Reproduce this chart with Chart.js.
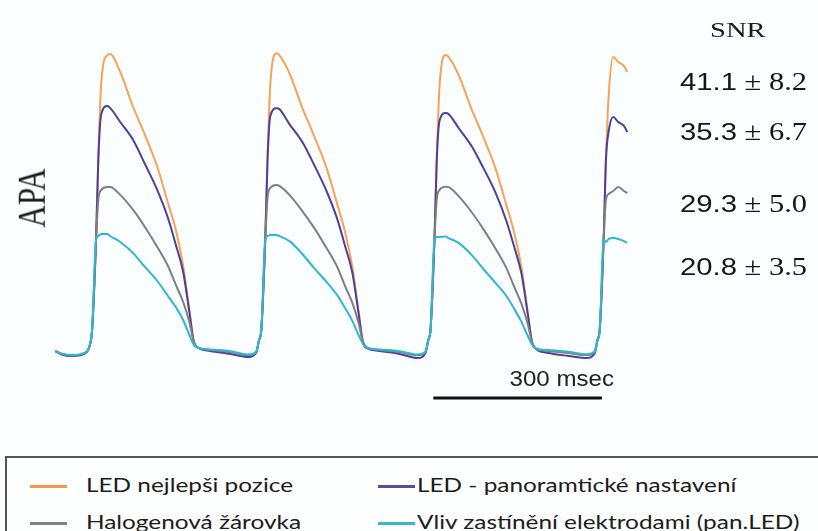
<!DOCTYPE html>
<html>
<head>
<meta charset="utf-8">
<script src="https://cdn.jsdelivr.net/npm/chart.js@4.4.1/dist/chart.umd.min.js"></script>
<style>
  html, body { margin: 0; padding: 0; background: #fbfefe; }
  #wrap { position: relative; width: 818px; height: 531px; overflow: hidden; background: #fbfefe; }
  #chart { position: absolute; left: 0; top: 0; }
  .serif { font-family: "Liberation Serif", "DejaVu Serif", serif; color: #1a1a1a; }
  #apa { position: absolute; left: 31px; top: 198px; font-size: 31px; line-height: 1;
         transform: translate(-50%, -50%) scaleX(1.27) rotate(-90deg); white-space: nowrap; }
  #snrTitle { position: absolute; left: 710px; top: 19px; font-size: 22px; line-height: 1;
              transform: scaleX(1.3); transform-origin: left center; }
  .snr { position: absolute; left: 680px; white-space: nowrap; line-height: 1; color: #161616;
         transform: scaleX(1.22); transform-origin: left center; }
  .snr .m { font-family: "Liberation Sans", Arial, sans-serif; font-size: 24px; }
  .snr .s { font-family: "Liberation Serif", serif; font-size: 25px; }
  #legend { position: absolute; left: 5px; top: 456px; width: 830px; height: 100px; border: 2px solid #555; background: #fdfefe; }
  .item { position: absolute; font-family: Lato, "Open Sans", sans-serif; font-size: 19.5px; line-height: 19px; color: #1c1c1c;
          white-space: nowrap; transform: scaleX(1.25); transform-origin: left center; }
  .sw { position: absolute; height: 3px; }
</style>
</head>
<body>
<div id="wrap">
  <canvas id="chart" width="818" height="531"></canvas>
  <div id="apa" class="serif">APA</div>
  <div id="snrTitle" class="serif">SNR</div>
  <div id="legend"></div>
</div>
<script>
// time axis (ms) shared by all four traces
const timeMs = [
  0, 12, 30, 53, 62, 66, 73, 77, 82, 93, 98, 116, 139, 160, 182, 201, 215, 228, 239, 247, 255, 276, 312, 344, 358, 363,
  367, 374, 378, 383, 394, 399, 417, 440, 461, 483, 502, 516, 529, 540, 548, 556, 577, 613, 645, 659, 664,
  668, 675, 679, 684, 695, 700, 718, 741, 762, 784, 803, 817, 830, 841, 849, 857, 878, 914, 946, 960, 965,
  969, 976, 980, 985, 993, 1002, 1012, 1018
];

const ledBest = [
  -0.3, -1.3, -1.8, -1.0, 1.7, 6.7, 36.7, 63.3, 88.3, 98.3, 98.7, 92.7, 81, 71.7, 61, 49, 40, 28, 13.3, 2.7, 0.7, 0, -0.7, -1.7, -0.7, 3.3,
  6.7, 36.7, 63, 88.5, 98.9, 98.3, 92.3, 80.7, 71.3, 60.7, 48.7, 39.3, 27.7, 13, 2.7, 0.7, 0, -0.7, -1.7, -0.7, 3.3,
  6.7, 36.7, 62.7, 87.7, 98.3, 97.7, 91.7, 80.3, 71, 60.3, 48.3, 39, 27.3, 12.7, 2.3, 0.3, -0.3, -1, -1.7, -0.7, 3.3,
  6.7, 36.7, 63, 85, 97.7, 96, 94.7, 92.7
];

const ledPanoramic = [
  -0.3, -1.5, -2.0, -1.2, 1.7, 6.7, 36.7, 63.3, 78.3, 81.3, 80.7, 76, 70, 62, 53.3, 44, 35, 26, 12.7, 2.7, 0.7, -0.3, -1.3, -2.3, -0.9, 3.3,
  6.7, 36.7, 63, 78, 80.6, 80.3, 75.3, 69.3, 61.7, 53, 43.7, 34.7, 25.7, 12.3, 2.3, 0.5, -0.3, -1.3, -2.7, -1, 3.3,
  6.7, 36.7, 62.7, 76.3, 79, 78.7, 74, 68, 60.7, 52.3, 43, 34.3, 25.3, 12, 2.3, 0.2, -1, -2, -2.7, -1.2, 3.3,
  6.7, 36.7, 63, 73, 77.7, 76, 74.7, 72.7
];

const halogen = [
  -0.3, -1.3, -1.8, -1.0, 1.7, 6.7, 36.7, 50, 53.3, 54.3, 54.3, 51.7, 46.7, 41, 34.3, 28, 21.7, 16, 9.3, 2.7, 0.7, 0, -0.7, -1.7, -0.7, 3.3,
  6.7, 36.7, 50.5, 54, 55, 54.7, 51.7, 46.3, 40.7, 34, 27.7, 21.3, 15.7, 9, 2.7, 0.7, 0, -0.7, -1.7, -0.7, 3.3,
  6.7, 36.7, 50, 53.3, 54.4, 54.3, 51.3, 46, 40.3, 33.7, 27.3, 21, 15.3, 8.7, 2.3, 0.3, -0.3, -1, -1.7, -0.7, 3.3,
  6.7, 36.7, 50, 52, 53, 54.3, 53, 52.3
];

const electrodeShade = [
  -0.3, -1.2, -1.7, -0.9, 1.7, 6.7, 36.7, 38, 38.7, 38.7, 38, 36, 32.3, 27.7, 23, 18, 14.3, 10, 5, 1.7, 0.7, 0.2, -0.4, -1.5, -0.5, 3.3,
  6.7, 36.7, 38, 38.3, 38.3, 38, 36.3, 32, 27.3, 22.7, 18.3, 14, 9.7, 5, 2, 0.7, 0.2, -0.4, -1.5, -0.5, 3.3,
  6.7, 36.7, 37.7, 37.7, 37.8, 37.3, 35.7, 31.7, 27, 22.3, 18, 13.7, 9.3, 4.7, 1.7, 0.4, 0, -0.6, -1.4, -0.5, 3.3,
  6.7, 36.7, 36, 37, 37.3, 37, 36.3, 35.7
];

const seriesNames = [
  'LED nejlepši pozice',
  'LED - panoramtické nastavení',
  'Halogenová žárovka',
  'Vliv zastínění elektrodami (pan.LED)'
];
const seriesColors = ['#f6a257', '#4c3f9e', '#7d7f80', '#2fb6d2'];
const legendColors = ['#f79646', '#5a4d94', '#808080', '#3ab8c4'];
const snrMean = ['41.1', '35.3', '29.3', '20.8'];
const snrSd = ['8.2', '6.7', '5.0', '3.5'];

// scale bar: 300 ms
const barStart = 673;
const barLength = 300;
const barLevel = -16;

const seriesValues = [ledBest, ledPanoramic, halogen, electrodeShade];

const datasets = seriesValues.map((vals, i) => ({
    label: seriesNames[i],
    data: timeMs.map((t, j) => ({ x: t, y: vals[j] })),
    borderColor: seriesColors[i],
    borderWidth: 2,
    pointRadius: 0,
    cubicInterpolationMode: 'monotone',
    fill: false,
    order: 4 - i
}));

datasets.push({
    label: 'scale',
    data: [{ x: barStart, y: barLevel }, { x: barStart + barLength, y: barLevel }],
    borderColor: '#111111',
    borderWidth: 3,
    pointRadius: 0,
    order: 0
});

const scaleLabel = {
    id: 'scaleLabel',
    afterDatasetsDraw(chart) {
        const { ctx, scales } = chart;
        const xr = scales.x.getPixelForValue(barStart + barLength) + 12;
        const y = scales.y.getPixelForValue(barLevel) - 18;
        ctx.save();
        ctx.translate(xr, y);
        ctx.scale(1.12, 1);
        ctx.font = '21.5px "Liberation Sans", Arial, sans-serif';
        ctx.fillStyle = '#222';
        ctx.textAlign = 'right';
        ctx.textBaseline = 'middle';
        ctx.fillText(barLength + ' msec', 0, 0);
        ctx.restore();
    }
};

new Chart(document.getElementById('chart'), {
    type: 'line',
    data: { datasets: datasets },
    options: {
        responsive: false,
        animation: false,
        layout: { padding: { left: 55, right: 184, top: 20, bottom: 121 } },
        plugins: { legend: { display: false }, tooltip: { enabled: false } },
        scales: {
            x: { type: 'linear', min: 0, max: 1030, display: false },
            y: { type: 'linear', min: -20, max: 110, display: false }
        }
    },
    plugins: [scaleLabel]
});

const wrap = document.getElementById('wrap');

// SNR column
const snrTops = [69, 119, 191, 254];
snrMean.forEach((m, i) => {
    const d = document.createElement('div');
    d.className = 'snr';
    d.style.top = snrTops[i] + 'px';
    d.innerHTML = '<span class="m">' + m + '</span><span class="s"> \u00b1 ' + snrSd[i] + '</span>';
    wrap.appendChild(d);
});

// legend entries (box drawn by #legend)
const legendPos = [[30, 475], [378, 475], [30, 512], [378, 512]];
const textGap = [56, 39, 56, 39];
seriesNames.forEach((name, i) => {
    const [lx, ly] = legendPos[i];
    const sw = document.createElement('div');
    sw.className = 'sw';
    sw.style.left = lx + 'px';
    sw.style.top = (ly + 10) + 'px';
    sw.style.width = '37px';
    sw.style.background = legendColors[i];
    wrap.appendChild(sw);
    const t = document.createElement('div');
    t.className = 'item';
    t.style.left = (lx + textGap[i]) + 'px';
    t.style.top = ly + 'px';
    t.textContent = name;
    wrap.appendChild(t);
});
</script>
</body>
</html>
